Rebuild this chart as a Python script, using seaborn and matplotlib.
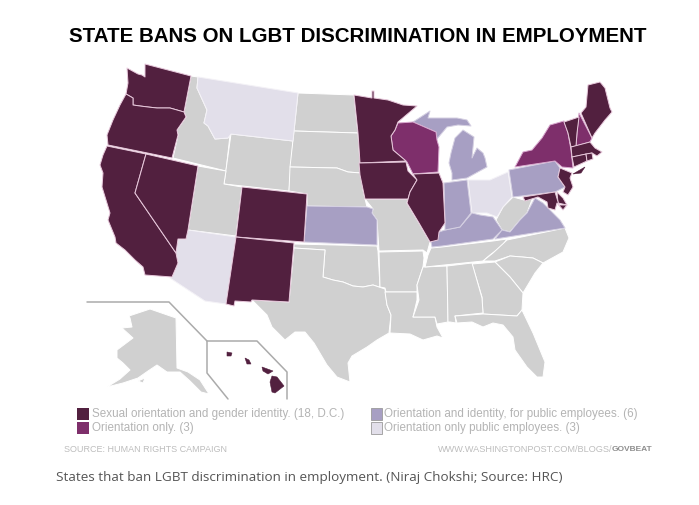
import matplotlib
matplotlib.use('Agg')
import matplotlib.pyplot as plt
from matplotlib.patches import Rectangle
import pandas as pd
import seaborn as sns

# outlines, in image pixels
WA = [(127,68),(138,74),(142,75),(145,77),(145,64),(191,76),(184,112),(170,108),(157,108),(148,107),(140,106),(133,105),(133,98),(126,94),(128,83)]
OR = [(126,94),(133,98),(133,105),(140,106),(148,107),(157,108),(170,108),(184,112),(186,117),(177,130),(178,135),(172,158),(108,145),(107,135),(113,120),(120,105)]
CA = [(107,146),(146,154),(135,193),(176,253),(178,263),(172,277),(145,275),(143,267),(135,260),(125,250),(116,243),(115,237),(108,220),(110,213),(102,187),(103,173),(100,165),(103,155)]
NV = [(146,154),(198,166),(188,230),(186,239),(178,239),(176,253),(135,193)]
ID = [(191,76),(198,77),(197,88),(207,110),(204,123),(208,126),(215,139),(228,138),(230,135),(226,171),(173,158),(178,135),(177,130),(186,117),(184,112)]
MT = [(198,77),(298,93),(293,141),(231,134),(228,138),(215,139),(208,126),(204,123),(207,110),(197,88)]
WY = [(231,134),(293,141),(289,191),(224,184)]
UT = [(198,166),(226,171),(224,184),(242,187),(236,236),(188,230)]
CO = [(242,187),(307,194),(304,242),(236,237)]
NM = [(236,237),(294,243),(289,302),(252,300),(251,302),(235,301),(234,306),(226,304)]
AZ = [(188,230),(236,237),(226,304),(205,301),(170,278),(172,277),(178,263),(176,253),(178,239),(186,239)]
ND = [(298,93),(354,95),(358,133),(294,131)]
SD = [(294,131),(358,133),(360,162),(361,173),(348,172),(337,168),(290,167)]
NE = [(290,167),(337,168),(348,172),(361,173),(363,190),(367,207),(307,206),(307,194),(289,191)]
KS = [(307,206),(367,207),(373,209),(372,213),(377,220),(377,245),(304,242)]
OK = [(294,244),(377,246),(378,251),(380,287),(385,289),(373,285),(363,287),(353,286),(343,282),(333,280),(323,277),(325,250),(294,248)]
TX = [(294,248),(325,250),(323,277),(333,280),(343,282),(353,286),(363,287),(373,285),(385,289),(387,305),(391,315),(389,333),(377,340),(367,347),(352,356),(348,363),(350,382),(337,377),(327,365),(314,343),(305,332),(295,332),(285,340),(272,327),(267,315),(252,300),(289,302)]
MN = [(354,95),(372,98),(372,91),(374,91),(374,98),(388,100),(403,105),(417,106),(398,122),(395,130),(391,136),(393,150),(406,161),(360,163),(358,133)]
WI = [(398,123),(413,122),(436,132),(437,140),(439,147),(438,172),(413,174),(407,162),(393,150),(391,136),(395,130)]
IA = [(359,163),(406,162),(408,171),(417,180),(410,192),(408,199),(365,199),(360,175)]
IL = [(413,174),(439,173),(443,183),(445,223),(439,232),(438,240),(430,242),(419,223),(407,203),(410,192),(417,180)]
MO = [(365,199),(408,199),(407,203),(419,223),(430,242),(427,253),(423,250),(379,251),(377,220),(372,213),(373,209)]
AR = [(379,252),(423,251),(424,258),(423,267),(417,285),(417,292),(386,292),(385,288),(380,287)]
LA = [(385,292),(417,292),(417,300),(413,317),(435,317),(437,327),(443,338),(437,336),(423,340),(410,334),(390,333),(391,315),(387,305)]
MS = [(423,267),(447,266),(448,322),(437,324),(435,317),(413,317),(419,300),(417,285)]
TN = [(428,255),(431,248),(442,247),(493,241),(507,239),(502,246),(490,255),(483,261),(425,267)]
KY = [(432,247),(431,242),(439,232),(445,230),(460,227),(472,213),(480,215),(493,217),(502,230),(493,239),(442,246)]
IN = [(444,183),(467,180),(471,213),(460,227),(445,230),(445,223)]
OH = [(468,180),(490,180),(508,172),(512,197),(503,207),(497,217),(487,213),(480,213),(472,213)]
MI_LOWER = [(452,180),(467,178),(487,167),(485,158),(483,153),(477,148),(472,158),(474,137),(463,130),(455,138),(451,153),(449,163),(452,173)]
MI_UPPER = [(413,122),(430,111),(428,118),(443,118),(457,118),(467,120),(471,126),(458,125),(447,127),(437,139),(436,132)]
PA = [(509,170),(555,161),(560,168),(558,177),(565,187),(555,192),(513,197)]
NY = [(515,167),(523,152),(532,150),(542,138),(550,125),(564,121),(568,133),(571,150),(573,168),(562,167),(555,161)]
LONG_ISLAND = [(573,174),(585,167),(581,173)]
VT = [(564,122),(579,117),(577,133),(576,146),(571,147),(568,133)]
NH = [(579,113),(592,138),(590,142),(576,146),(577,133)]
ME = [(588,85),(600,82),(605,88),(610,108),(612,112),(605,120),(595,133),(592,138),(581,113),(586,107)]
MA = [(571,147),(590,142),(595,148),(602,152),(597,156),(592,153),(572,157)]
CT = [(572,157),(586,154),(587,161),(574,167)]
RI = [(586,154),(592,153),(593,159),(587,161)]
NJ = [(560,168),(572,173),(570,178),(573,187),(568,195),(563,192),(565,187),(558,177)]
DE = [(557,192),(558,203),(567,205),(563,198)]
MD = [(523,197),(555,192),(559,205),(567,205),(563,210),(557,203),(555,210),(548,208),(547,202),(538,197),(525,201)]
VA = [(495,239),(565,228),(560,220),(543,203),(535,198),(527,213),(520,220),(510,232),(502,230)]
WV = [(513,197),(524,200),(533,197),(527,213),(520,220),(510,232),(502,230),(496,220),(503,207)]
NC = [(565,228),(569,238),(563,252),(543,263),(533,258),(522,257),(510,256),(495,261),(483,261),(493,253),(507,240)]
SC = [(495,262),(510,256),(522,257),(533,258),(543,263),(535,273),(523,293),(510,277)]
GA = [(472,264),(495,262),(510,277),(523,293),(522,310),(517,316),(483,314),(482,297)]
AL = [(447,266),(472,263),(482,298),(483,313),(455,316),(456,323),(450,322),(448,322)]
FL = [(455,316),(483,314),(517,316),(522,310),(533,333),(545,362),(543,377),(537,377),(527,367),(515,350),(513,337),(503,325),(493,323),(483,327),(472,322),(457,323)]
AK = [(129,316),(150,309),(176,318),(177,368),(188,372),(200,380),(209,394),(201,392),(190,381),(180,372),(167,372),(157,365),(148,371),(138,378),(123,383),(107,387),(120,379),(130,370),(123,363),(117,358),(117,350),(133,338),(122,328),(132,327),(130,318)]
KODIAK = [(138,381),(145,378),(143,383)]
HI_BIG = [(272,376),(277,377),(284,386),(275,393),(272,392),(270,382)]
HI_MAUI = [(262,367),(273,371),(268,374),(263,371)]
HI_OAHU = [(245,358),(249,360),(251,364),(247,364)]
HI_KAUAI = [(227,352),(232,353),(231,356),(227,356)]

full_ban = [WA, OR, CA, NV, CO, NM, MN, IA, IL, VT, ME, MA, CT, RI, NJ, DE, MD]
orientation_only = [WI, NY, NH]
public_both = [KS, KY, IN, MI_LOWER, MI_UPPER, PA, VA]
public_orientation = [MT, AZ, OH]
no_ban = [ID, WY, UT, ND, SD, NE, OK, TX, MO, AR, LA, MS, TN, WV, NC, SC, GA, AL, FL, AK, KODIAK]
small_islands = [LONG_ISLAND, HI_BIG, HI_MAUI, HI_OAHU, HI_KAUAI]

inset_x_alaska = [87, 169, 207, 257, 287, 287]
inset_y_alaska = [302, 302, 341, 341, 372, 399]
inset_x_hawaii = [207, 207, 228]
inset_y_hawaii = [341, 373, 399]

legend_left = ['Sexual orientation and gender identity. (18, D.C.)', 'Orientation only. (3)']
legend_right = ['Orientation and identity, for public employees. (6)', 'Orientation only public employees. (3)']
title = 'STATE BANS ON LGBT DISCRIMINATION IN EMPLOYMENT'
source = 'SOURCE: HUMAN RIGHTS CAMPAIGN'
credit_url = 'WWW.WASHINGTONPOST.COM/BLOGS/'
credit_blog = 'GOVBEAT'
caption = 'States that ban LGBT discrimination in employment. (Niraj Chokshi; Source: HRC)'

sns.set_theme(style='white')
plt.rcParams['font.family'] = ['Liberation Sans', 'DejaVu Sans']
colors = sns.color_palette(['#52203F', '#7E2F6B', '#A79FC3', '#E2DFEA', '#D0D0D0'])

fig = plt.figure(figsize=(6.99, 5.05), dpi=100)
ax = fig.add_axes([0, 0, 1, 1])

# grey first so the coloured states sit on top
groups = [(no_ban, 4, 'white'), (public_orientation, 3, '#F4F2F7'), (public_both, 2, '#D5D0E2'),
          (orientation_only, 1, '#D9A9CF'), (full_ban, 0, '#E8C9DC')]
for shapes, c, edge in groups:
    for shape in shapes:
        ax.fill([p[0] for p in shape], [p[1] for p in shape], facecolor=colors[c],
                edgecolor=edge, linewidth=0.7, joinstyle='round')
for shape in small_islands:
    ax.fill([p[0] for p in shape], [p[1] for p in shape], color=colors[0], linewidth=0.4)

for xs, ys in [(inset_x_alaska, inset_y_alaska), (inset_x_hawaii, inset_y_hawaii)]:
    frame = pd.DataFrame({'x': xs, 'y': ys})
    sns.lineplot(data=frame, x='x', y='y', sort=False, estimator=None, color='#ABABAB', lw=1.1, ax=ax)
ax.set_xlim(0, 699)
ax.set_ylim(505, 0)
ax.axis('off')

ax.text(357.5, 36, title, ha='center', va='center', fontsize=14.8, fontweight='bold', color='black')

for i, label in enumerate(legend_left):
    ax.add_patch(Rectangle((77, 408 + 14 * i), 11.5, 12, facecolor=colors[i], edgecolor='none'))
    ax.text(91.5, 414.5 + 14 * i, label, va='center', fontsize=8.4, color='#B4B4B4')
for i, label in enumerate(legend_right):
    ax.add_patch(Rectangle((370.5, 408 + 14 * i), 11.5, 12, facecolor=colors[i + 2], edgecolor='#9A9A9A', lw=0.6))
    ax.text(384, 414.5 + 14 * i, label, va='center', fontsize=8.4, color='#B4B4B4')

ax.text(64, 449.5, source, va='center', fontsize=6.5, color='#BDBDBD')
ax.text(652, 449.5, credit_blog, ha='right', va='center', fontsize=6.0, color='#8E8E8E', fontweight='bold')
ax.text(612, 449.5, credit_url, ha='right', va='center', fontsize=6.6, color='#BDBDBD')

ax.text(56, 478, caption, va='center', fontsize=9.7, color='#555555', family=['Open Sans', 'DejaVu Sans'])

plt.savefig('out.png', dpi=100)
